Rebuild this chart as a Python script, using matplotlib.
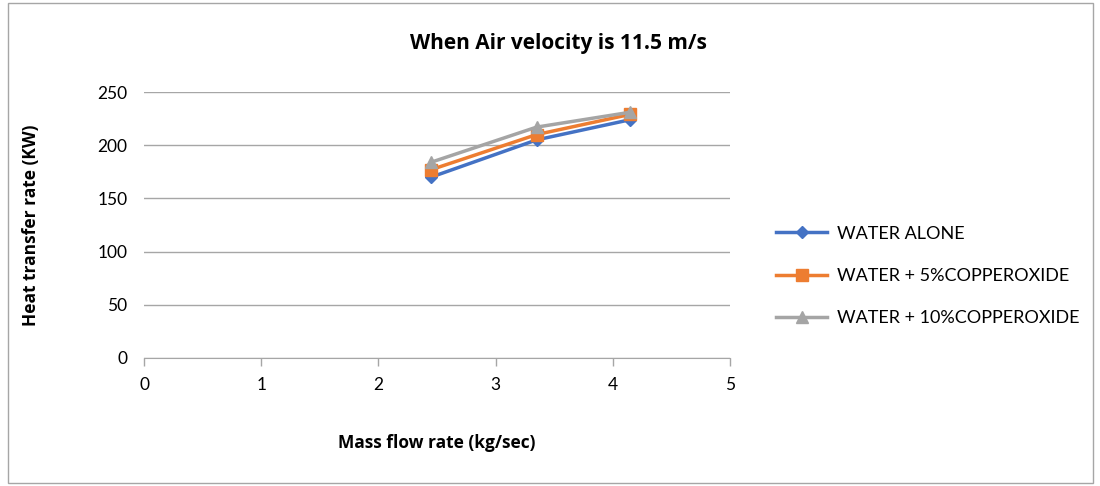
import matplotlib.pyplot as plt
from matplotlib.patches import Rectangle

# данные с графика
mass_flow = [2.45, 3.35, 4.15]
water_alone = [170, 205, 224]
water_5cuo = [177, 210, 229]
water_10cuo = [184, 217, 231]
labels = ['WATER ALONE', 'WATER + 5%COPPEROXIDE', 'WATER + 10%COPPEROXIDE']

plt.rcParams['font.family'] = ['Lato', 'DejaVu Sans']
bold_font = ['Open Sans', 'DejaVu Sans']

fig = plt.figure(figsize=(11, 4.86), dpi=100)
ax = fig.add_axes([144/1100, 1 - 358/486, (730-144)/1100, (358-92)/486])

ax.plot(mass_flow, water_alone, color='#4472C4', marker='D', markersize=6, linewidth=2.5, label=labels[0])
ax.plot(mass_flow, water_5cuo, color='#ED7D31', marker='s', markersize=8, linewidth=2.5, label=labels[1])
ax.plot(mass_flow, water_10cuo, color='#A5A5A5', marker='^', markersize=9, linewidth=2.5, label=labels[2])

ax.set_xlim(0, 5)
ax.set_ylim(0, 250)
ax.set_xticks(range(0, 6))
ax.set_yticks(range(0, 251, 50))
ax.tick_params(axis='both', labelsize=12.5, colors='#000000')
ax.tick_params(axis='x', length=6, color='#A6A6A6', width=1, pad=8)
ax.tick_params(axis='y', length=0, pad=12)
ax.grid(axis='y', color='#A6A6A6', linewidth=1)
ax.set_axisbelow(True)
for s in ['top', 'right', 'left']:
    ax.spines[s].set_visible(False)
ax.spines['bottom'].set_color('#A6A6A6')

ax.set_xlabel('Mass flow rate (kg/sec)', fontsize=12.5, fontweight='bold', family=bold_font, labelpad=29)
ax.set_ylabel('Heat transfer rate (KW)', fontsize=12.5, fontweight='bold', family=bold_font, labelpad=41)
fig.text(558/1100, 1 - 44/486, 'When Air velocity is 11.5 m/s', fontsize=15, fontweight='bold',
         family=bold_font, ha='center', va='center')

ax.legend(loc='center left', bbox_to_anchor=(760/1100, 1 - 276/486), bbox_transform=fig.transFigure,
          frameon=False, fontsize=13, handlelength=2.8, handletextpad=0.55, labelspacing=1.45)

fig.patches.append(Rectangle((8/1100, 3/486), 1085/1100, 480/486, transform=fig.transFigure,
                             fill=False, edgecolor='#A6A6A6', linewidth=1))

plt.savefig('out.png', dpi=100)
